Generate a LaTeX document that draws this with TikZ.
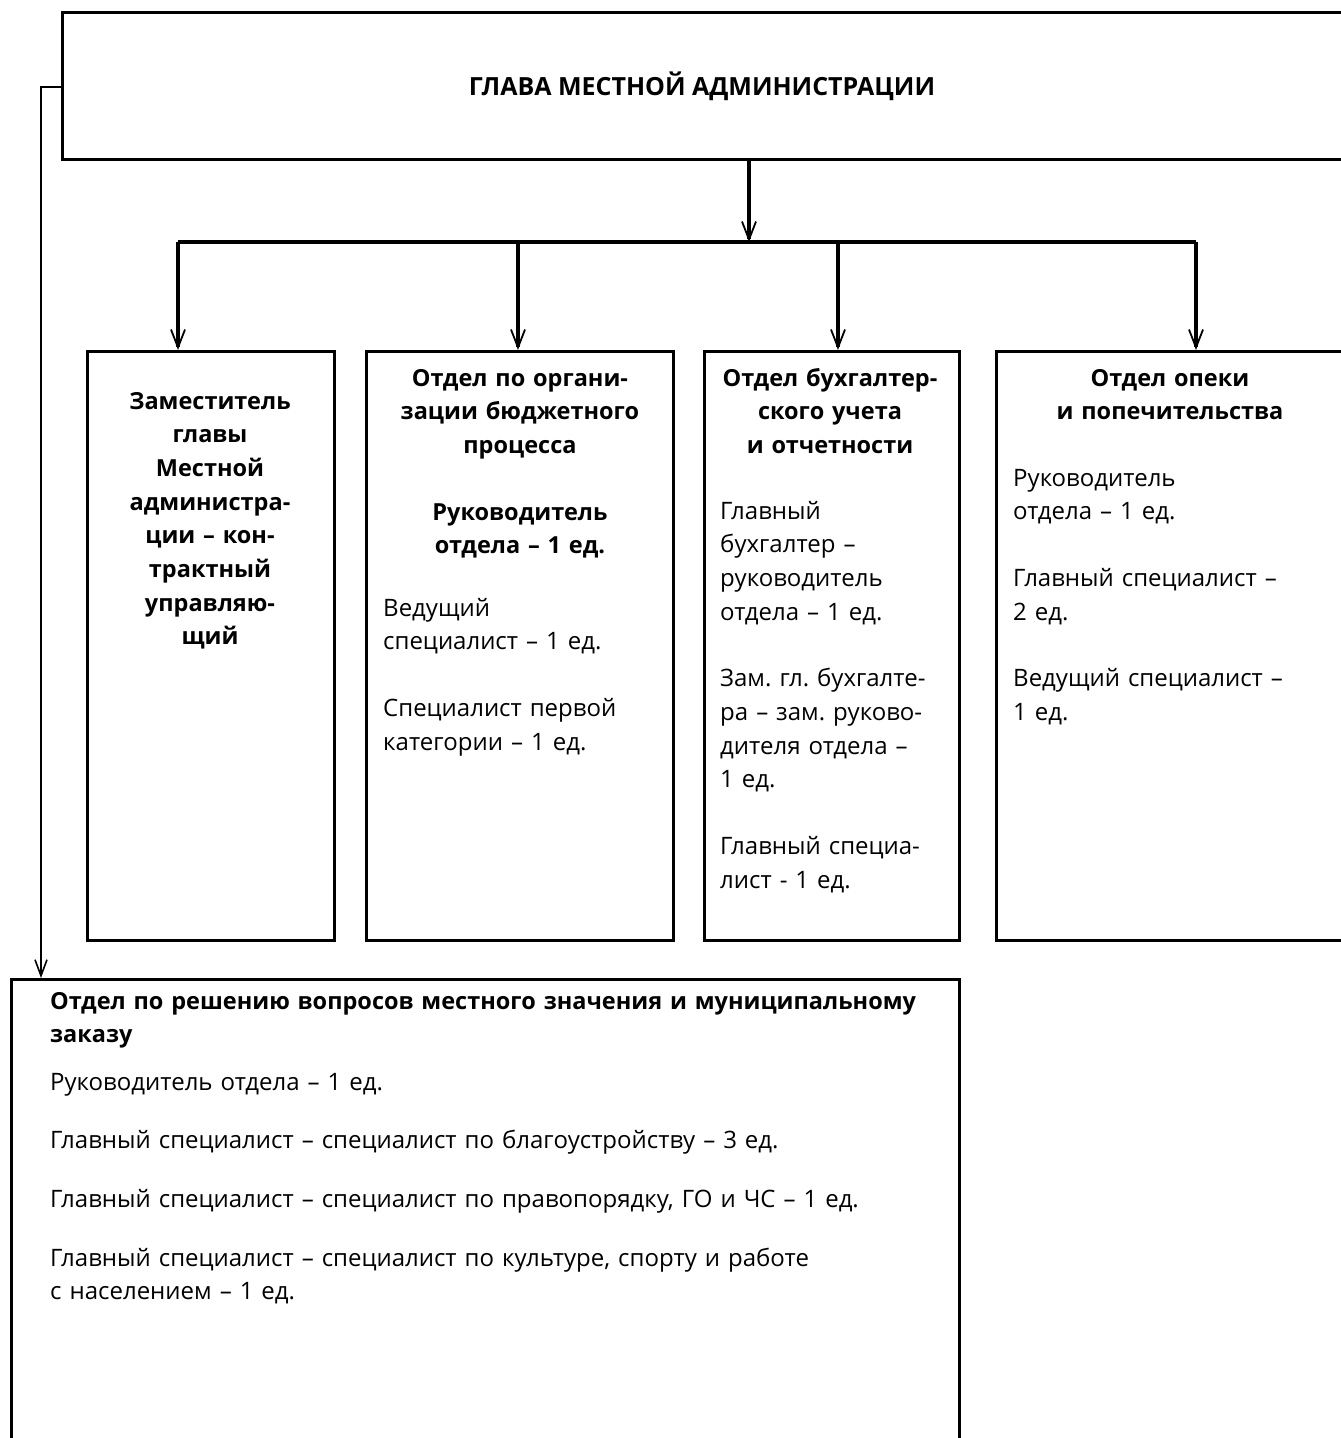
\documentclass[tikz,border=0pt]{standalone}
\usepackage{fontspec}
\setmainfont{Open Sans}
\usetikzlibrary{arrows.meta}
\tikzset{
  boxnode/.style={draw=black, line width=3.2pt, inner sep=0pt, anchor=north west, fill=white},
  conn/.style={line width=3.2pt, -{Straight Barb[length=18pt,width=14pt,line width=1.8pt]}},
  thinconn/.style={line width=2.2pt, -{Straight Barb[length=16pt,width=12pt,line width=1.6pt]}},
  bus/.style={line width=3.2pt},
  hbold/.style={font=\fontsize{23.5}{33.7}\selectfont\bfseries\frenchspacing, inner sep=0pt, align=center},
  body/.style={font=\fontsize{24}{33.7}\selectfont\frenchspacing, inner sep=0pt, align=left},
}
\begin{document}
\begin{tikzpicture}[x=1pt,y=-1pt]
\useasboundingbox (0,0) rectangle (1341,1438);
\clip (0,0) rectangle (1341,1438);
% boxes
\node[boxnode, minimum width=1290pt, minimum height=147pt] (top) at (61,11) {};
\node[boxnode, minimum width=247pt, minimum height=589pt] (b1) at (86,350) {};
\node[boxnode, minimum width=307pt, minimum height=589pt] (b2) at (365,350) {};
\node[boxnode, minimum width=255pt, minimum height=589pt] (b3) at (703,350) {};
\node[boxnode, minimum width=360pt, minimum height=589pt] (b4) at (995,350) {};
\node[boxnode, minimum width=948pt, minimum height=480pt] (b5) at (10,978) {};
% texts
\node[hbold, font=\fontsize{25}{30}\selectfont\bfseries, anchor=base] (t0) at (702,95) {ГЛАВА МЕСТНОЙ АДМИНИСТРАЦИИ};
\node[hbold, text width=240pt, anchor=base] (t1) at (210,409) {Заместитель\\главы\\Местной\\администра-\\ции – кон-\\трактный\\управляю-\\щий};
\node[hbold, text width=300pt, anchor=base] (t2a) at (520,386) {Отдел по органи-\\зации бюджетного\\процесса\\[33pt]Руководитель\\отдела – 1 ед.};
\node[body, text width=280pt, anchor=base west] (t2b) at (383,616) {Ведущий\\специалист – 1 ед.\\[33pt]Специалист первой\\категории – 1 ед.};
\node[hbold, text width=250pt, anchor=base] (t3a) at (830,386) {Отдел бухгалтер-\\ского учета\\и отчетности};
\node[body, text width=230pt, anchor=base west] (t3b) at (720,519) {Главный\\бухгалтер –\\руководитель\\отдела – 1 ед.\\[33pt]Зам. гл. бухгалте-\\ра – зам. руково-\\дителя отдела –\\1 ед.\\[33pt]Главный специа-\\лист - 1 ед.};
\node[hbold, text width=300pt, anchor=base] (t4a) at (1170,386) {Отдел опеки\\и попечительства};
\node[body, text width=320pt, anchor=base west] (t4b) at (1013,486) {Руководитель\\отдела – 1 ед.\\[33pt]Главный специалист –\\2 ед.\\[33pt]Ведущий специалист –\\1 ед.};
\node[hbold, align=left, text width=900pt, anchor=base west] (t5a) at (50,1009) {Отдел по решению вопросов местного значения и муниципальному\\заказу};
\node[body, text width=900pt, anchor=base west] (t5b) at (50,1090) {Руководитель отдела – 1 ед.\\[25pt]Главный специалист – специалист по благоустройству – 3 ед.\\[25pt]Главный специалист – специалист по правопорядку, ГО и ЧС – 1 ед.\\[25pt]Главный специалист – специалист по культуре, спорту и работе\\с населением – 1 ед.};
% connectors
\coordinate (busc) at (749,242);
\coordinate (busl) at (178,242);
\coordinate (busr) at (1196,242);
\coordinate (lk) at (41,87);
\draw[conn] (top.south -| busc) -- (busc);
\draw[bus] (busl) -- (busr);
\draw[conn] (busl) -- (busl |- b1.north);
\draw[conn] (518,242) -- (518,350);
\draw[conn] (838,242) -- (838,350);
\draw[conn] (busr) -- (busr |- b4.north);
\draw[thinconn] (top.west |- lk) -- (lk) -- (lk |- b5.north);
\end{tikzpicture}
\end{document}
